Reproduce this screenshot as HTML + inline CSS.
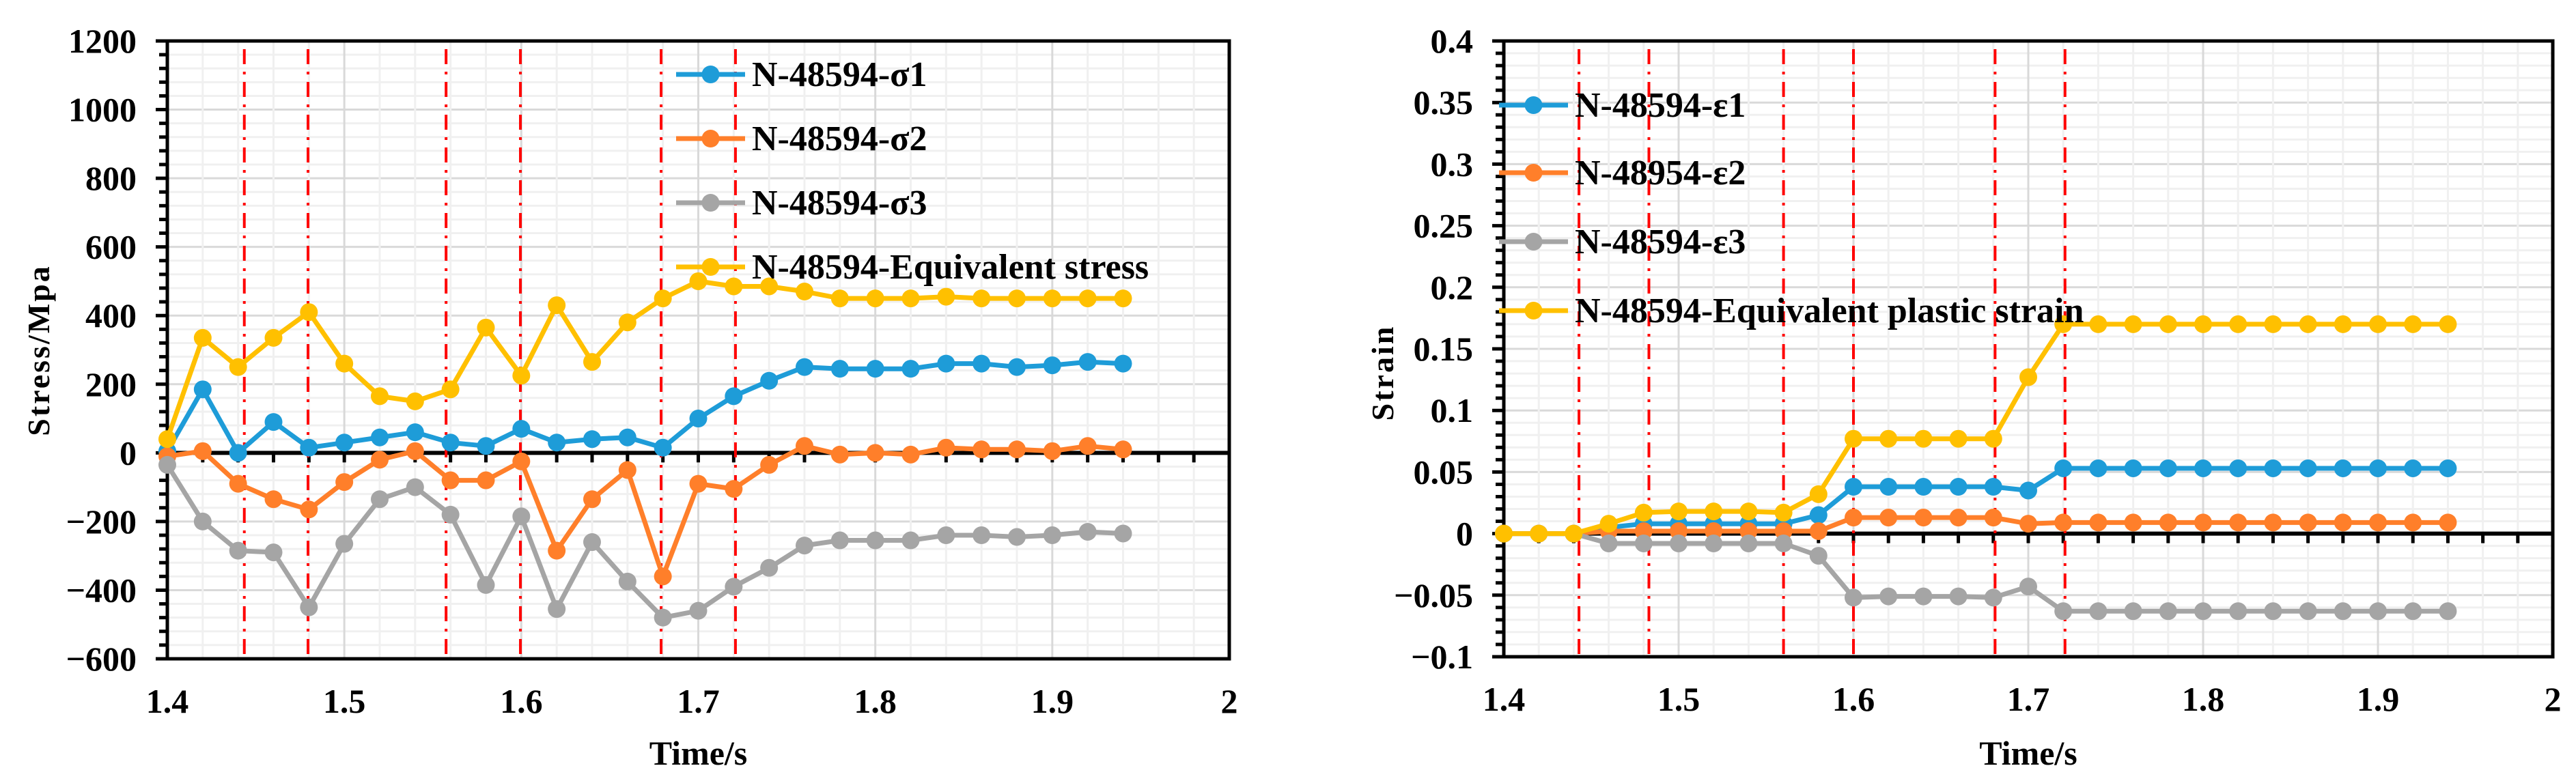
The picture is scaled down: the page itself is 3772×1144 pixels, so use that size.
<!DOCTYPE html>
<html><head><meta charset="utf-8"><style>
html,body{margin:0;padding:0;background:#fff}
svg{display:block}
text{font-family:"Liberation Serif",serif;font-weight:bold;fill:#000}
</style></head><body>
<svg id="svg" width="3772" height="1144" viewBox="0 0 3772 1144" xmlns="http://www.w3.org/2000/svg"></svg>
<script>
const times=[1.40,1.42,1.44,1.46,1.48,1.50,1.52,1.54,1.56,1.58,1.60,1.62,1.64,1.66,1.68,1.70,1.72,1.74,1.76,1.78,1.80,1.82,1.84,1.86,1.88,1.90,1.92,1.94];
const stressS1=[5,185,0,90,15,30,45,60,30,20,70,30,40,45,15,100,165,210,250,245,245,245,260,260,250,255,265,260];
const stressS2=[-10,5,-90,-135,-165,-85,-20,5,-80,-80,-25,-285,-135,-50,-360,-90,-105,-35,20,-5,0,-5,15,10,10,5,20,10];
const stressS3=[-35,-200,-285,-290,-450,-265,-135,-100,-180,-385,-185,-455,-260,-375,-480,-460,-390,-335,-270,-255,-255,-255,-240,-240,-245,-240,-230,-235];
const stressEq=[40,335,250,335,410,260,165,150,185,365,225,430,265,380,450,500,485,485,470,450,450,450,455,450,450,450,450,450];
const strainE1=[0,0,0,0.005,0.008,0.008,0.008,0.008,0.008,0.015,0.038,0.038,0.038,0.038,0.038,0.035,0.053,0.053,0.053,0.053,0.053,0.053,0.053,0.053,0.053,0.053,0.053,0.053];
const strainE2=[0,0,0,0.002,0.002,0.002,0.002,0.002,0.002,0.002,0.013,0.013,0.013,0.013,0.013,0.008,0.009,0.009,0.009,0.009,0.009,0.009,0.009,0.009,0.009,0.009,0.009,0.009];
const strainE3=[0,0,0,-0.008,-0.008,-0.008,-0.008,-0.008,-0.008,-0.018,-0.052,-0.051,-0.051,-0.051,-0.052,-0.043,-0.063,-0.063,-0.063,-0.063,-0.063,-0.063,-0.063,-0.063,-0.063,-0.063,-0.063,-0.063];
const strainEq=[0,0,0,0.008,0.017,0.018,0.018,0.018,0.017,0.032,0.077,0.077,0.077,0.077,0.077,0.127,0.17,0.17,0.17,0.17,0.17,0.17,0.17,0.17,0.17,0.17,0.17,0.17];
const xTickLabels=["1.4","1.5","1.6","1.7","1.8","1.9","2"];
const stressTickLabels=["1200","1000","800","600","400","200","0","\u2212200","\u2212400","\u2212600"];
const strainTickLabels=["0.4","0.35","0.3","0.25","0.2","0.15","0.1","0.05","0","\u22120.05","\u22120.1"];
const stressMarkers=[1.4435,1.4795,1.5575,1.5995,1.679,1.721];
const strainMarkers=[1.443,1.483,1.560,1.600,1.681,1.721];
const stressLegend=["N-48594-\u03c31","N-48594-\u03c32","N-48594-\u03c33","N-48594-Equivalent stress"];
const strainLegend=["N-48594-\u03b51","N-48954-\u03b52","N-48594-\u03b53","N-48594-Equivalent plastic strain"];
const colors=["#1E9CD8","#FF7F2A","#A5A5A5","#FFC000"];

const NS="http://www.w3.org/2000/svg";
const svg=document.getElementById('svg');
function mk(tag,attrs,parent){const e=document.createElementNS(NS,tag);for(const k in attrs)e.setAttribute(k,attrs[k]);(parent||svg).appendChild(e);return e;}

function chart(o){
  const g=mk('g',{});
  
  
  const X=t=>o.L+(t-1.4)/0.6*(o.R-o.L);
  const Y=v=>o.T+(o.ymax-v)/(o.ymax-o.ymin)*(o.B-o.T);
  // minor grid
  const nMinorY=Math.round((o.ymax-o.ymin)/o.minorY);
  for(let i=1;i<nMinorY;i++){
    const v=o.ymax-i*o.minorY;const major=i%5===0;
    const l=mk('line',{x1:o.L,x2:o.R,y1:Y(v),y2:Y(v),stroke:major?'#d9d9d9':'#f0f0f0','stroke-width':3},g);
    
    
  }
  for(let i=1;i<30;i++){
    const t=1.4+i*0.02;const major=i%5===0;
    const l=mk('line',{x1:X(t),x2:X(t),y1:o.T,y2:o.B,stroke:major?'#d9d9d9':'#f0f0f0','stroke-width':3},g);
    
    
  }
  // y ticks
  for(let i=0;i<=nMinorY;i++){
    const v=o.ymax-i*o.minorY;const major=i%5===0;
    const l=mk('line',{x1:o.L-(major?17:12),x2:o.L,y1:Y(v),y2:Y(v),stroke:'#000','stroke-width':5},g);
    
    
  }
  o.yLabels.forEach((s,i)=>{
    const v=o.ymax-i*o.minorY*5;
    const t=mk('text',{x:o.L-45,y:Y(v)+17,'text-anchor':'end','font-size':50},g);
    t.textContent=s;
    
    
  });
  xTickLabels.forEach((s,i)=>{
    const t=mk('text',{x:X(1.4+i*0.1),y:o.B+79,'text-anchor':'middle','font-size':50},g);
    t.textContent=s;
    
    
  });
  // frame
  const f=mk('rect',{x:o.L,y:o.T,width:o.R-o.L,height:o.B-o.T,fill:'none',stroke:'#000','stroke-width':5},g);
  
  
  // zero axis
  const z=mk('line',{x1:o.L,x2:o.R,y1:Y(0),y2:Y(0),stroke:'#000','stroke-width':6},g);
  
  
  for(let i=1;i<30;i++){
    const l=mk('line',{x1:X(1.4+i*0.02),x2:X(1.4+i*0.02),y1:Y(0),y2:Y(0)+14,stroke:'#000','stroke-width':5},g);
    
    
  }
  // red marker lines
  o.markers.forEach(t=>{
    const l=mk('line',{x1:X(t),x2:X(t),y1:o.T+12,y2:o.B,stroke:'#FF0000','stroke-width':4,'stroke-dasharray':'22 11 4 11'},g);
    
    
  });
  // series
  o.series.forEach((arr,si)=>{
    const sg=mk('g',{},g);
    
    
    const pts=arr.map((v,i)=>X(times[i]).toFixed(1)+','+Y(v).toFixed(1)).join(' ');
    const p=mk('polyline',{points:pts,fill:'none',stroke:colors[si],'stroke-width':7,'stroke-linejoin':'round'},sg);
    
    
    arr.forEach((v,i)=>{
      const c=mk('circle',{cx:X(times[i]),cy:Y(v),r:13,fill:colors[si]},sg);
      
      
    });
  });
  // legend
  o.legend.forEach((s,i)=>{
    const lg=mk('g',{},g);
    
    
    const y=o.legY[i];
    mk('line',{x1:o.legX1,x2:o.legX2,y1:y,y2:y,stroke:colors[i],'stroke-width':7},lg);
    mk('circle',{cx:(o.legX1+o.legX2)/2,cy:y,r:13,fill:colors[i]},lg);
    const t=mk('text',{x:o.legX2+10,y:y+17,'font-size':52},lg);
    t.textContent=s;
  });
  const xt=mk('text',{x:(o.L+o.R)/2,y:1120,'text-anchor':'middle','font-size':50},g);
  xt.textContent='Time/s';
  
  
  const yt=mk('text',{x:0,y:0,'text-anchor':'middle','font-size':46,'letter-spacing':3,transform:'translate('+o.ytX+','+o.ytY+') rotate(-90)'},g);
  yt.textContent=o.ytitle;
  
  
}

chart({name:'stress-chart',L:245,R:1800,T:60,B:965,ymin:-600,ymax:1200,minorY:40,
  yLabels:stressTickLabels,markers:stressMarkers,series:[stressS1,stressS2,stressS3,stressEq],
  legend:stressLegend,legY:[109,203,297,391],legX1:990,legX2:1091,ytitle:'Stress/Mpa',ytX:72,ytY:513});
chart({name:'strain-chart',L:2202,R:3738,T:60,B:962,ymin:-0.1,ymax:0.4,minorY:0.01,
  yLabels:strainTickLabels,markers:strainMarkers,series:[strainE1,strainE2,strainE3,strainEq],
  legend:strainLegend,legY:[154,253,354,455],legX1:2195,legX2:2296,ytitle:'Strain',ytX:2040,ytY:546});
</script>
</body></html>
